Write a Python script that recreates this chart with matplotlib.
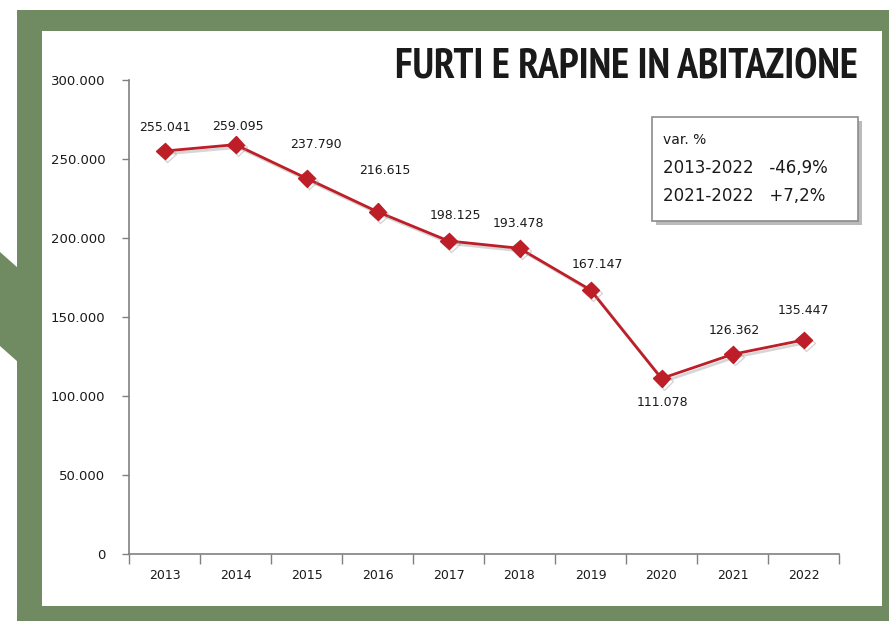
import matplotlib.pyplot as plt
import matplotlib.patheffects as pe
from matplotlib import font_manager as fm
from matplotlib.patches import Rectangle, Polygon

# Dataset
years = ['2013', '2014', '2015', '2016', '2017', '2018', '2019', '2020', '2021', '2022']
furti = [255041, 259095, 237790, 216615, 198125, 193478, 167147, 111078, 126362, 135447]
labels = ['255.041', '259.095', '237.790', '216.615', '198.125',
          '193.478', '167.147', '111.078', '126.362', '135.447']
yticks = [0, 50000, 100000, 150000, 200000, 250000, 300000]
ytick_labels = ['0', '50.000', '100.000', '150.000', '200.000', '250.000', '300.000']
box_lines = ['var. %', '2013-2022   -46,9%', '2021-2022   +7,2%']

# label offsets in points (dx, dy)
offsets = [(0, 17), (2, 13), (7, 24), (5, 30), (5, 18), (-1, 18), (5, 18), (1, -17), (1, 17), (0, 21)]

W, H = 889, 621
green = '#708b61'
red = '#bd1e28'

# look for a narrow bold font for the title
title_font = None
for f in fm.fontManager.ttflist:
    n = (f.name + ' ' + f.fname).lower()
    if ('narrow' in n or 'condensed' in n) and f.weight in ('bold', 700, 800, 900, 'heavy', 'black'):
        title_font = fm.FontProperties(fname=f.fname)
        if 'narrow' in n:
            break
if title_font is None:
    title_font = fm.FontProperties(family='DejaVu Sans', weight='bold')

fig = plt.figure(figsize=(W / 100, H / 100), dpi=100, facecolor='white')

# frame: green border, white panel, left arrow
fig.patches.append(Rectangle((17 / W, 0), 1 - 17 / W, 1 - 10 / H, transform=fig.transFigure,
                             facecolor=green, edgecolor='none', zorder=-3))
fig.patches.append(Rectangle((42 / W, 1 - 606 / H), (882 - 42) / W, (606 - 31) / H,
                             transform=fig.transFigure, facecolor='white', edgecolor='none', zorder=-2))
fig.patches.append(Polygon([(0, 1 - 252 / H), (18 / W, 1 - 268 / H), (18 / W, 1 - 362 / H), (0, 1 - 346 / H)],
                           closed=True, transform=fig.transFigure, facecolor=green, edgecolor='none', zorder=-3))

ax = fig.add_axes([129 / W, 1 - 554 / H, (839 - 129) / W, (554 - 80) / H])
ax.set_facecolor('none')

x = list(range(len(years)))
ax.plot(x, furti, '-D', color=red, linewidth=2.0, markersize=8.5, zorder=3,
        path_effects=[pe.SimpleLineShadow(offset=(2, -2), shadow_color='#999999', alpha=0.4), pe.Normal()])

for xi, yi, lab, (dx, dy) in zip(x, furti, labels, offsets):
    ax.annotate(lab, (xi, yi), xytext=(dx, dy), textcoords='offset points',
                ha='center', va='center', fontsize=9, color='#1a1a1a')

ax.set_xlim(-0.5, len(years) - 0.5)
ax.set_ylim(0, 300000)
ax.set_yticks(yticks)
ax.set_yticklabels(ytick_labels, fontsize=9.5, color='#1a1a1a')
ax.set_xticks(x)
ax.set_xticklabels(years, fontsize=9, color='#1a1a1a')
ax.set_xticks([i - 0.5 for i in range(len(years) + 1)], minor=True)
ax.tick_params(axis='x', which='major', length=0, pad=11)
ax.tick_params(axis='x', which='minor', length=7, color='#808080', width=1)
ax.tick_params(axis='y', length=5, color='#808080', width=1, pad=12)

for s in ['top', 'right']:
    ax.spines[s].set_visible(False)
for s in ['left', 'bottom']:
    ax.spines[s].set_color('#808080')
    ax.spines[s].set_linewidth(1.2)

# title, sized to fit the width of the original
title = fig.text(858 / W, 1 - 68 / H, 'FURTI E RAPINE IN ABITAZIONE', ha='right', va='center',
                 fontproperties=title_font, fontsize=30, color='#1a1a1a')
fig.canvas.draw()
tw = title.get_window_extent().width
title.set_fontsize(min(38, 30 * 463 / tw))

# variation box
fig.patches.append(Rectangle((656 / W, 1 - 225 / H), (862 - 656) / W, (225 - 121) / H,
                             transform=fig.transFigure, facecolor='#bbbbbb', edgecolor='none', zorder=1))
fig.patches.append(Rectangle((652 / W, 1 - 221 / H), (858 - 652) / W, (221 - 117) / H,
                             transform=fig.transFigure, facecolor='white', edgecolor='#8c8c8c',
                             linewidth=1.2, zorder=2))
for i, t in enumerate(box_lines):
    fig.text(663 / W, 1 - (140 + 28 * i) / H, t, ha='left', va='center',
             fontsize=12 if i else 10, color='#1a1a1a', zorder=3)

plt.savefig('out.png', dpi=100, facecolor=fig.get_facecolor())
